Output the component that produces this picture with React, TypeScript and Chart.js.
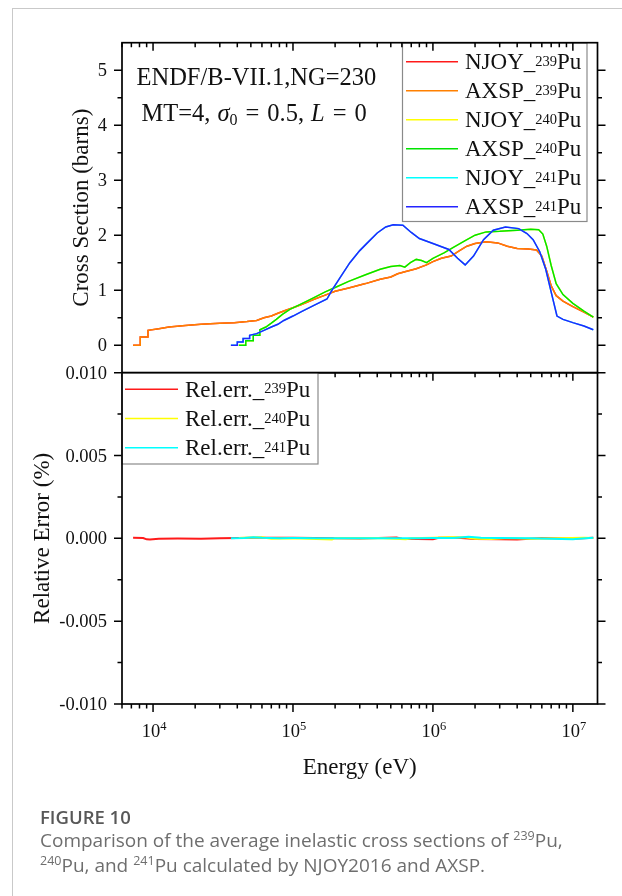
import React, { useEffect, useRef } from 'react';
import { Chart, registerables } from 'chart.js';

Chart.register(...registerables);

// ---------- axes ----------
const X_MIN = 6000;
const X_MAX = 1.5e7;
const X_MAJOR = [1e4, 1e5, 1e6, 1e7];
const X_MAJOR_EXP = ['4', '5', '6', '7'];

const TOP_Y_MIN = -0.5;
const TOP_Y_MAX = 5.5;
const TOP_Y_TICKS = [0, 1, 2, 3, 4, 5];
const TOP_Y_LABELS = ['0', '1', '2', '3', '4', '5'];
const TOP_Y_MINOR = [0.5, 1.5, 2.5, 3.5, 4.5];

const BOT_Y_MIN = -0.01;
const BOT_Y_MAX = 0.01;
const BOT_Y_TICKS = [-0.01, -0.005, 0, 0.005, 0.01];
const BOT_Y_LABELS = ['-0.010', '-0.005', '0.000', '0.005', '0.010'];
const BOT_Y_MINOR = [-0.0075, -0.0025, 0.0025, 0.0075];

// ---------- cross sections (barns) ----------
const E_239 = [7200, 8100, 8100, 9200, 9200, 11000, 13000, 17000, 22000, 30000, 38000, 47000, 55000, 62000, 70000, 78000, 88000, 100000, 115000, 140000, 170000, 200000, 250000, 330000, 420000, 500000, 560000, 640000, 760000, 900000, 1000000, 1150000, 1350000, 1550000, 1750000, 2000000, 2400000, 2900000, 3400000, 4000000, 4800000, 5500000, 6000000, 6500000, 7000000, 7600000, 8500000, 10000000, 12000000, 14000000];
const XS_239 = [0, 0, 0.15, 0.15, 0.27, 0.30, 0.33, 0.36, 0.38, 0.40, 0.41, 0.43, 0.45, 0.50, 0.53, 0.58, 0.63, 0.68, 0.74, 0.83, 0.91, 0.98, 1.04, 1.12, 1.20, 1.24, 1.30, 1.34, 1.39, 1.46, 1.52, 1.58, 1.62, 1.72, 1.80, 1.85, 1.88, 1.86, 1.80, 1.76, 1.75, 1.73, 1.62, 1.35, 1.08, 0.90, 0.80, 0.70, 0.60, 0.51];

const E_240 = [41000, 46000, 46000, 52000, 52000, 58000, 58000, 64000, 70000, 76000, 84000, 95000, 110000, 140000, 170000, 200000, 250000, 330000, 420000, 500000, 580000, 630000, 690000, 760000, 830000, 900000, 1000000, 1200000, 1400000, 1700000, 2000000, 2400000, 3000000, 4000000, 5000000, 5700000, 6100000, 6500000, 7000000, 7600000, 8500000, 10000000, 12000000, 14000000];
const XS_240 = [0, 0, 0.08, 0.08, 0.18, 0.18, 0.28, 0.33, 0.40, 0.47, 0.56, 0.65, 0.73, 0.86, 0.97, 1.05, 1.16, 1.28, 1.38, 1.43, 1.45, 1.42, 1.50, 1.56, 1.54, 1.50, 1.58, 1.68, 1.78, 1.90, 2.00, 2.06, 2.07, 2.09, 2.11, 2.10, 2.02, 1.80, 1.45, 1.12, 0.92, 0.76, 0.62, 0.51];

const E_241 = [36000, 40000, 40000, 44000, 44000, 49000, 49000, 55000, 62000, 70000, 78000, 86000, 100000, 115000, 140000, 175000, 190000, 220000, 255000, 300000, 340000, 400000, 460000, 520000, 610000, 700000, 800000, 1000000, 1300000, 1500000, 1700000, 1950000, 2300000, 2700000, 3300000, 4100000, 4700000, 5200000, 5800000, 6400000, 7100000, 7700000, 8500000, 10000000, 12000000, 14000000];
const XS_241 = [0, 0, 0.06, 0.06, 0.12, 0.12, 0.18, 0.21, 0.27, 0.33, 0.38, 0.45, 0.53, 0.61, 0.72, 0.84, 1.00, 1.25, 1.50, 1.72, 1.86, 2.04, 2.15, 2.19, 2.18, 2.05, 1.94, 1.85, 1.74, 1.58, 1.46, 1.62, 1.92, 2.09, 2.15, 2.12, 2.03, 1.92, 1.70, 1.38, 0.90, 0.53, 0.47, 0.41, 0.35, 0.28];

// ---------- relative errors (%) ----------
const REL_E_239 = [7200, 8500, 9000, 9500, 11000, 15000, 22000, 30000, 40000, 60000, 100000, 200000, 300000, 550000, 600000, 1000000, 1100000, 1500000, 2000000, 3000000, 4000000, 6000000, 10000000, 14000000];
const REL_239 = [0.00003, 0.00002, -0.00006, -0.00007, -0.00002, -0.00001, -0.00002, 0.00001, 0.00002, 0.00003, 0.00004, 0.00001, -0.00001, 0.00005, -0.00002, -0.00006, 0.00004, 0.00003, -0.00004, -0.00006, -0.00007, 0.00002, -0.00003, 0.00004];
const REL_E_240 = [41000, 50000, 60000, 70000, 100000, 190000, 200000, 400000, 640000, 700000, 1000000, 1300000, 1700000, 2000000, 2600000, 3500000, 5000000, 8000000, 12000000, 14000000];
const REL_240 = [0.00002, 0.00005, 0.00006, -0.00002, 0.00001, -0.00007, 0.00001, 0.00002, -0.00006, 0.00001, 0.00003, 0.00006, 0.00007, -0.00003, -0.00004, 0.00002, -0.00002, 0.00001, 0.00003, 0.00002];
const REL_E_241 = [36000, 45000, 52000, 60000, 80000, 100000, 150000, 300000, 500000, 800000, 1000000, 1400000, 1800000, 2200000, 3000000, 5000000, 7000000, 10000000, 11000000, 14000000];
const REL_241 = [0.00001, 0.00002, 0.00007, 0.00003, 0.00001, 0.00002, 0.00001, 0.0, 0.00001, 0.0, 0.00002, 0.00002, 0.00009, 0.00004, 0.00002, 0.0, -0.00002, -0.00005, -0.00002, 0.00003];

// ---------- legends ----------
const TOP_PREFIX = ['NJOY_', 'AXSP_', 'NJOY_', 'AXSP_', 'NJOY_', 'AXSP_'];
const TOP_MASS = ['239', '239', '240', '240', '241', '241'];
const TOP_COLORS = ['#ff1a1a', '#ff8000', '#ffff00', '#00e400', '#00ffff', '#2424ff'];
const BOT_PREFIX = ['Rel.err._', 'Rel.err._', 'Rel.err._'];
const BOT_MASS = ['239', '240', '241'];
const BOT_COLORS = ['#ff1a1a', '#ffff00', '#00ffff'];

const ANNOT_1 = 'ENDF/B-VII.1,NG=230';

const SERIF = '"Liberation Serif", "Times New Roman", serif';
const W = 622;
const H = 896;

type Seg = { t: string; f: string; dy?: number; dx?: number };

function drawSegs(ctx: CanvasRenderingContext2D, segs: Seg[], x: number, y: number, align: string = 'left') {
  ctx.textBaseline = 'alphabetic';
  ctx.textAlign = 'left';
  let total = 0;
  for (const s of segs) {
    ctx.font = s.f;
    total += ctx.measureText(s.t).width + (s.dx || 0);
  }
  let cx = align === 'left' ? x : align === 'center' ? x - total / 2 : x - total;
  for (const s of segs) {
    ctx.font = s.f;
    cx += s.dx || 0;
    ctx.fillText(s.t, cx, y + (s.dy || 0));
    cx += ctx.measureText(s.t).width;
  }
  return total;
}

function xMinorTicks(): number[] {
  const out: number[] = [];
  for (let d = 3; d <= 7; d++) {
    for (let m = 2; m <= 9; m++) {
      const v = m * Math.pow(10, d);
      if (v >= X_MIN && v <= X_MAX) out.push(v);
    }
  }
  return out;
}

function drawXTicks(ctx: CanvasRenderingContext2D, chart: any, yPix: number, dir: number) {
  const xs = chart.scales.x;
  ctx.beginPath();
  for (const v of X_MAJOR) {
    const px = xs.getPixelForValue(v);
    ctx.moveTo(px, yPix);
    ctx.lineTo(px, yPix + dir * 8);
  }
  for (const v of xMinorTicks()) {
    const px = xs.getPixelForValue(v);
    ctx.moveTo(px, yPix);
    ctx.lineTo(px, yPix + dir * 4.5);
  }
  ctx.stroke();
}

function drawYTicks(ctx: CanvasRenderingContext2D, chart: any, majors: number[], minors: number[]) {
  const ys = chart.scales.y;
  const { left, right } = chart.chartArea;
  ctx.beginPath();
  for (const v of majors) {
    const py = ys.getPixelForValue(v);
    ctx.moveTo(left - 8, py);
    ctx.lineTo(left, py);
    ctx.moveTo(right, py);
    ctx.lineTo(right + 8, py);
  }
  for (const v of minors) {
    const py = ys.getPixelForValue(v);
    ctx.moveTo(left - 4.5, py);
    ctx.lineTo(left, py);
    ctx.moveTo(right, py);
    ctx.lineTo(right + 4.5, py);
  }
  ctx.stroke();
}

function drawYLabels(ctx: CanvasRenderingContext2D, chart: any, vals: number[], labels: string[]) {
  const ys = chart.scales.y;
  ctx.fillStyle = '#111';
  ctx.font = `18.5px ${SERIF}`;
  ctx.textAlign = 'right';
  ctx.textBaseline = 'alphabetic';
  vals.forEach((v, i) => {
    ctx.fillText(labels[i], 107, ys.getPixelForValue(v) + 6);
  });
}

function drawFrame(ctx: CanvasRenderingContext2D, chart: any) {
  const { left, right, top, bottom } = chart.chartArea;
  ctx.strokeStyle = '#000';
  ctx.lineWidth = 1.7;
  ctx.strokeRect(left, top, right - left, bottom - top);
}

function drawLegend(
  ctx: CanvasRenderingContext2D,
  chart: any,
  box: number[],
  firstY: number,
  step: number,
  sx0: number,
  sx1: number,
  tx: number,
  prefixes: string[],
  masses: string[],
) {
  const [bx0, by0, bx1, by1] = box;
  ctx.fillStyle = '#fff';
  ctx.fillRect(bx0, by0, bx1 - bx0, by1 - by0);
  ctx.strokeStyle = '#8a8a8a';
  ctx.lineWidth = 1.2;
  ctx.strokeRect(bx0, by0, bx1 - bx0, by1 - by0);
  chart.data.datasets.forEach((ds: any, i: number) => {
    const y = firstY + i * step;
    ctx.strokeStyle = ds.borderColor;
    ctx.lineWidth = 1.4;
    ctx.beginPath();
    ctx.moveTo(sx0, y);
    ctx.lineTo(sx1, y);
    ctx.stroke();
    ctx.fillStyle = '#111';
    drawSegs(
      ctx,
      [
        { t: prefixes[i], f: `23px ${SERIF}` },
        { t: masses[i], f: `14.5px ${SERIF}`, dy: -3.5 },
        { t: 'Pu', f: `23px ${SERIF}` },
      ],
      tx,
      y + 7.5,
    );
  });
}

const topDecor = {
  id: 'topDecor',
  afterDraw(chart: any) {
    const ctx: CanvasRenderingContext2D = chart.ctx;
    const { top, bottom } = chart.chartArea;
    ctx.save();
    // annotation
    ctx.fillStyle = '#111';
    drawSegs(ctx, [{ t: ANNOT_1, f: `24.5px ${SERIF}` }], 136.5, 85);
    const f = `24.5px ${SERIF}`;
    const fi = `italic 24.5px ${SERIF}`;
    drawSegs(
      ctx,
      [
        { t: 'MT=4,', f },
        { t: 'σ', f: fi, dx: 7 },
        { t: '0', f: `16px ${SERIF}`, dy: 4 },
        { t: '=', f, dx: 8 },
        { t: '0.5,', f, dx: 8 },
        { t: 'L', f: fi, dx: 7 },
        { t: '=', f, dx: 8 },
        { t: '0', f, dx: 8 },
      ],
      141.5,
      121,
    );
    // legend
    drawLegend(ctx, chart, [402.5, 43, 587, 221.5], 61.7, 29, 406, 458, 465, TOP_PREFIX, TOP_MASS);
    // frame & ticks
    drawFrame(ctx, chart);
    ctx.lineWidth = 1.5;
    ctx.strokeStyle = '#000';
    drawYTicks(ctx, chart, TOP_Y_TICKS, TOP_Y_MINOR);
    drawXTicks(ctx, chart, top, 1);
    drawYLabels(ctx, chart, TOP_Y_TICKS, TOP_Y_LABELS);
    // y title
    ctx.save();
    ctx.translate(88, (top + bottom) / 2);
    ctx.rotate(-Math.PI / 2);
    ctx.font = `23px ${SERIF}`;
    ctx.textAlign = 'center';
    ctx.textBaseline = 'alphabetic';
    ctx.fillStyle = '#111';
    ctx.fillText('Cross Section (barns)', 0, 0);
    ctx.restore();
    ctx.restore();
  },
};

const botDecor = {
  id: 'botDecor',
  afterDraw(chart: any) {
    const ctx: CanvasRenderingContext2D = chart.ctx;
    const { left, right, top, bottom } = chart.chartArea;
    const xs = chart.scales.x;
    ctx.save();
    ctx.lineWidth = 1.5;
    ctx.strokeStyle = '#000';
    drawYTicks(ctx, chart, BOT_Y_TICKS, BOT_Y_MINOR);
    drawXTicks(ctx, chart, top, 1);
    drawXTicks(ctx, chart, bottom, 1);
    drawLegend(ctx, chart, [left, top, 318, 464], 389.3, 29.2, 125, 178, 185, BOT_PREFIX, BOT_MASS);
    drawFrame(ctx, chart);
    drawYLabels(ctx, chart, BOT_Y_TICKS, BOT_Y_LABELS);
    // x labels
    ctx.fillStyle = '#111';
    X_MAJOR.forEach((v, i) => {
      drawSegs(
        ctx,
        [
          { t: '10', f: `18.5px ${SERIF}` },
          { t: X_MAJOR_EXP[i], f: `12.5px ${SERIF}`, dy: -7 },
        ],
        xs.getPixelForValue(v) + 1,
        736.7,
        'center',
      );
    });
    // x title
    ctx.font = `23px ${SERIF}`;
    ctx.textAlign = 'center';
    ctx.textBaseline = 'alphabetic';
    ctx.fillText('Energy (eV)', (left + right) / 2, 773.5);
    // y title
    ctx.save();
    ctx.translate(48.5, (top + bottom) / 2);
    ctx.rotate(-Math.PI / 2);
    ctx.font = `23px ${SERIF}`;
    ctx.textAlign = 'center';
    ctx.fillText('Relative Error (%)', 0, 0);
    ctx.restore();
    ctx.restore();
  },
};

function series(xs: number[], ys: number[]) {
  return xs.map((x, i) => ({ x, y: ys[i] }));
}

function baseOptions(padding: any, yMin: number, yMax: number) {
  return {
    responsive: false,
    animation: false as const,
    events: [],
    layout: { padding },
    plugins: {
      legend: { display: false },
      tooltip: { enabled: false },
      title: { display: false },
    },
    scales: {
      x: { type: 'logarithmic' as const, min: X_MIN, max: X_MAX, display: false },
      y: { type: 'linear' as const, min: yMin, max: yMax, display: false },
    },
    elements: { point: { radius: 0 }, line: { tension: 0 } },
  };
}

const PLOT_LEFT = 122;
const PLOT_RIGHT = 597.5;
const TOP_PANEL = [42.7, 372.7];
const BOT_PANEL = [372.7, 704];

export default function App() {
  const topRef = useRef<HTMLCanvasElement>(null);
  const botRef = useRef<HTMLCanvasElement>(null);

  useEffect(() => {
    const topData = [
      [E_239, XS_239],
      [E_239, XS_239],
      [E_240, XS_240],
      [E_240, XS_240],
      [E_241, XS_241],
      [E_241, XS_241],
    ];
    const topChart = new Chart(topRef.current as HTMLCanvasElement, {
      type: 'line',
      data: {
        datasets: topData.map((d, i) => ({
          label: TOP_PREFIX[i] + TOP_MASS[i] + 'Pu',
          data: series(d[0], d[1]),
          borderColor: TOP_COLORS[i],
          borderWidth: 1.5,
          pointRadius: 0,
          fill: false,
          order: -i,
        })),
      },
      options: baseOptions(
        { left: PLOT_LEFT, right: W - PLOT_RIGHT, top: TOP_PANEL[0], bottom: H - TOP_PANEL[1] },
        TOP_Y_MIN,
        TOP_Y_MAX,
      ) as any,
      plugins: [topDecor],
    });

    const botData = [
      [REL_E_239, REL_239],
      [REL_E_240, REL_240],
      [REL_E_241, REL_241],
    ];
    const botChart = new Chart(botRef.current as HTMLCanvasElement, {
      type: 'line',
      data: {
        datasets: botData.map((d, i) => ({
          label: BOT_PREFIX[i] + BOT_MASS[i] + 'Pu',
          data: series(d[0], d[1]),
          borderColor: BOT_COLORS[i],
          borderWidth: 2,
          pointRadius: 0,
          fill: false,
          order: -i,
        })),
      },
      options: baseOptions(
        { left: PLOT_LEFT, right: W - PLOT_RIGHT, top: BOT_PANEL[0], bottom: H - BOT_PANEL[1] },
        BOT_Y_MIN,
        BOT_Y_MAX,
      ) as any,
      plugins: [botDecor],
    });

    return () => {
      topChart.destroy();
      botChart.destroy();
    };
  }, []);

  const supStyle: React.CSSProperties = { fontSize: 12.5, position: 'relative', top: -7 };

  return (
    <div style={{ position: 'absolute', left: 0, top: 0, width: W, height: H, overflow: 'hidden', background: '#fff' }}>
      <div
        style={{
          position: 'absolute',
          left: 12,
          top: 8,
          right: -2,
          bottom: -2,
          borderTop: '1.5px solid #c9c9c9',
          borderLeft: '1.5px solid #c9c9c9',
        }}
      />
      <canvas ref={topRef} width={W} height={H} style={{ position: 'absolute', left: 0, top: 0, width: W, height: H }} />
      <canvas ref={botRef} width={W} height={H} style={{ position: 'absolute', left: 0, top: 0, width: W, height: H }} />
      <div
        style={{
          position: 'absolute',
          left: 40,
          top: 805,
          width: 580,
          fontFamily: '"Open Sans", "Noto Sans", sans-serif',
          color: '#6e6e6e',
        }}
      >
        <div style={{ fontSize: 18.5, fontWeight: 600, color: '#585858', lineHeight: '24px' }}>FIGURE 10</div>
        <div style={{ fontSize: 19, lineHeight: '23px', marginTop: 0 }}>
          Comparison of the average inelastic cross sections of <span style={supStyle}>239</span>Pu,
          <br />
          <span style={supStyle}>240</span>Pu, and <span style={supStyle}>241</span>Pu calculated by NJOY2016 and AXSP.
        </div>
      </div>
    </div>
  );
}
